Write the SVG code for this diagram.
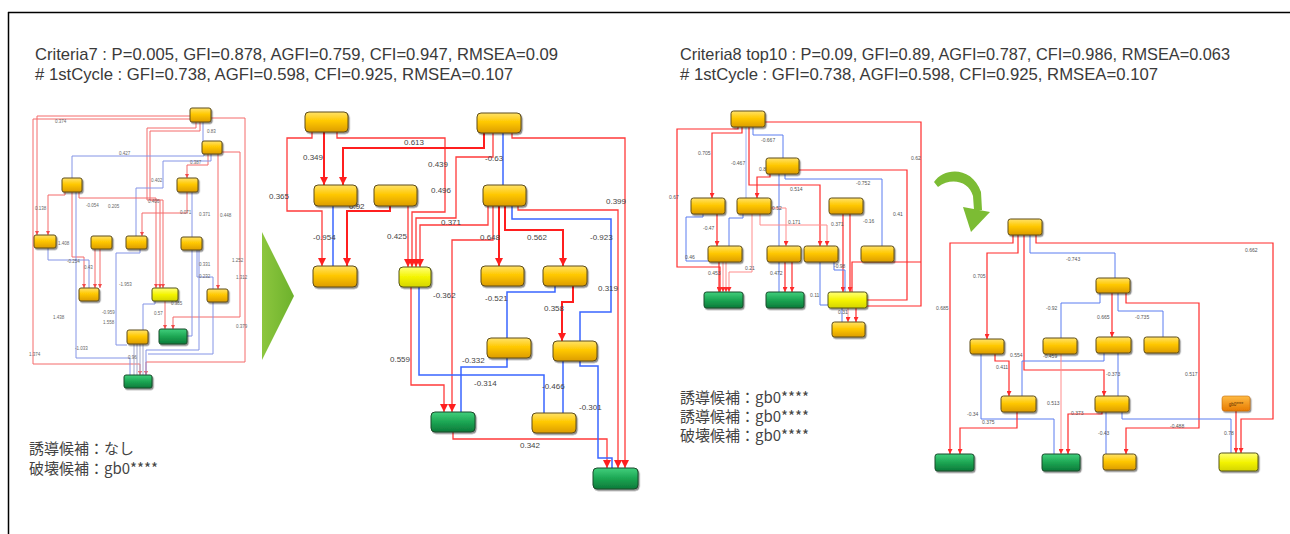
<svg xmlns="http://www.w3.org/2000/svg" width="1290" height="534" viewBox="0 0 1290 534">
<defs>
<linearGradient id="gGold" x1="0" y1="0" x2="0" y2="1"><stop offset="0" stop-color="#ffe26a"/><stop offset="0.45" stop-color="#ffc800"/><stop offset="1" stop-color="#dc9c00"/></linearGradient>
<linearGradient id="gGreen" x1="0" y1="0" x2="0" y2="1"><stop offset="0" stop-color="#40cf7c"/><stop offset="0.5" stop-color="#1ca653"/><stop offset="1" stop-color="#0c7a3a"/></linearGradient>
<linearGradient id="gYel" x1="0" y1="0" x2="0" y2="1"><stop offset="0" stop-color="#ffff7a"/><stop offset="0.5" stop-color="#f4f400"/><stop offset="1" stop-color="#d4d400"/></linearGradient>
<linearGradient id="gOr" x1="0" y1="0" x2="0" y2="1"><stop offset="0" stop-color="#ffbb44"/><stop offset="1" stop-color="#e77a00"/></linearGradient>
<linearGradient id="gTri" x1="0" y1="0" x2="1" y2="0"><stop offset="0" stop-color="#8cc63e"/><stop offset="1" stop-color="#6db22c"/></linearGradient>
<filter id="sh" x="-20%" y="-20%" width="150%" height="160%"><feDropShadow dx="1.2" dy="1.5" stdDeviation="0.7" flood-color="#000" flood-opacity="0.45"/></filter>
<marker id="aL" markerUnits="userSpaceOnUse" markerWidth="8" markerHeight="8" refX="8" refY="4" orient="auto"><path d="M0,0 L8,4 L0,8 z" fill="#ff1f1f"/></marker>
<marker id="aM" markerUnits="userSpaceOnUse" markerWidth="5" markerHeight="5" refX="5" refY="2.5" orient="auto"><path d="M0,0 L5,2.5 L0,5 z" fill="#ff2b2b"/></marker>
<marker id="aS" markerUnits="userSpaceOnUse" markerWidth="4" markerHeight="4" refX="4" refY="2" orient="auto"><path d="M0,0 L4,2 L0,4 z" fill="#f24a4a"/></marker>
</defs>
<style>
.gold{fill:url(#gGold);stroke:#5e4d1c;stroke-width:1;filter:url(#sh)}
.green{fill:url(#gGreen);stroke:#1b4a2b;stroke-width:1;filter:url(#sh)}
.yel{fill:url(#gYel);stroke:#55551a;stroke-width:1;filter:url(#sh)}
.org{fill:url(#gOr);stroke:#c06a10;stroke-width:0.6;filter:url(#sh)}
.rs{stroke:#ff1f1f;stroke-width:2;fill:none}
.rm{stroke:#ff3a3a;stroke-width:1.3;fill:none}
.bs{stroke:#3a66ff;stroke-width:1.5;fill:none}
.r2{stroke:#ff2b2b;stroke-width:1.2;fill:none}
.p2{stroke:#ff8c8c;stroke-width:1;fill:none}
.b2{stroke:#5b7cf0;stroke-width:1;fill:none}
.r1{stroke:#f46a6a;stroke-width:1;fill:none}
.b1{stroke:#8494e6;stroke-width:1;fill:none}
.g1{stroke:#a2a8cc;stroke-width:1;fill:none}
.lab{font-family:"Liberation Sans",Arial,sans-serif;font-size:8px;fill:#444}
.l2{font-family:"Liberation Sans",Arial,sans-serif;font-size:5px;fill:#555}
.l1{font-family:"Liberation Sans",Arial,sans-serif;font-size:4.5px;fill:#666}
.hd{font-family:"Liberation Sans",Arial,sans-serif;font-size:17px;fill:#3a3a3a}
.jp{font-family:"Noto Sans CJK JP","Noto Sans",sans-serif;fill:#444}
</style>
<rect x="0" y="0" width="1290" height="534" fill="#ffffff"/>
<path d="M8,12.5 H1290 M8.5,12 V534" stroke="#000" stroke-width="1.5" fill="none"/>

<g id="headers">
<text class="hd" x="35" y="60" textLength="523" lengthAdjust="spacingAndGlyphs">Criteria7 : P=0.005, GFI=0.878, AGFI=0.759, CFI=0.947, RMSEA=0.09</text>
<text class="hd" x="35" y="80" textLength="478" lengthAdjust="spacingAndGlyphs"># 1stCycle : GFI=0.738, AGFI=0.598, CFI=0.925, RMSEA=0.107</text>
<text class="hd" x="680" y="60" textLength="550" lengthAdjust="spacingAndGlyphs">Criteria8 top10 : P=0.09, GFI=0.89, AGFI=0.787, CFI=0.986, RMSEA=0.063</text>
<text class="hd" x="680" y="80" textLength="478" lengthAdjust="spacingAndGlyphs"># 1stCycle : GFI=0.738, AGFI=0.598, CFI=0.925, RMSEA=0.107</text>
</g>
<g id="notes">
<text class="jp" x="29" y="454" font-size="15">誘導候補：なし</text>
<text class="jp" x="29" y="474" font-size="15">破壊候補：gb0****</text>
<text class="jp" x="680" y="403" font-size="15">誘導候補：gb0****</text>
<text class="jp" x="680" y="422" font-size="15">誘導候補：gb0****</text>
<text class="jp" x="680" y="441" font-size="15">破壊候補：gb0****</text>
</g>
<g id="arrows-deco">
<polygon points="262,232 294,296 262,360" fill="url(#gTri)"/>
<path d="M934,182 C944,167 972,166 981,192 L982,210 L974,210 L973,196 C969,181 951,177 938,187 Z" fill="#7cbc34"/>
<polygon points="963,207 990,212 971,232" fill="#7cbc34"/>
</g>

<!-- ================= LEFT SMALL GRAPH ================= -->
<g id="connectors-left">
<path class="r1" d="M190,116 H37 V235" marker-end="url(#aS)"/>
<path class="r1" d="M211,118 H245 V362 H146 V375" marker-end="url(#aS)"/>
<path class="r1" d="M190,119 H33 V364 H140 V375" marker-end="url(#aS)"/>
<path class="b1" d="M203,122 V142"/>
<path class="r1" d="M196,122 V128 H147 V200 H160 V288" marker-end="url(#aS)"/>
<path class="r1" d="M200,122 V131 H150 V200 H163 V288" marker-end="url(#aS)"/>
<path class="r1" d="M208,154 V165 H187 V178" marker-end="url(#aS)"/>
<path class="r1" d="M218,154 V289" marker-end="url(#aS)"/>
<path class="r1" d="M222,152 H240 V317 H173 V329" marker-end="url(#aS)"/>
<path class="b1" d="M204,154 V156 H72 V178"/>
<path class="b1" d="M211,154 V161 H163 V188 H136 V236"/>
<path class="r1" d="M65,192 V195 H48 V235" marker-end="url(#aS)"/>
<path class="r1" d="M72,192 V257 H84 V288" marker-end="url(#aS)"/>
<path class="r1" d="M79,192 V198 H156 V288" marker-end="url(#aS)"/>
<path class="r1" d="M95,249 V288" marker-end="url(#aS)"/>
<path class="r1" d="M100,249 V288" marker-end="url(#aS)"/>
<path class="r1" d="M187,192 V213 H142 V236" marker-end="url(#aS)"/>
<path class="b1" d="M192,192 V237"/>
<path class="b1" d="M197,250 V277 H213 V289"/>
<path class="b1" d="M48,248 V260 H89 V288"/>
<path class="b1" d="M140,249 V253 H116 V345 H127"/>
<path class="r1" d="M165,301 V329" marker-end="url(#aS)"/>
<path class="b1" d="M155,301 V304 H143 V330"/>
<path class="g1" d="M134,344 V375 M137,344 V375 M140,344 V375 M143,344 V375"/>
<path class="b1" d="M76,192 V358 H130 V375"/>
<path class="b1" d="M192,250 V336 H187"/>
<path class="b1" d="M199,250 V350 H146 V375"/>
<path class="b1" d="M213,302 V354 H148"/>
<text class="l1" x="55" y="123">0.374</text>
<text class="l1" x="29" y="356">1.374</text>
<text class="l1" x="236" y="328">0.379</text>
<text class="l1" x="207" y="133">0.83</text>
<text class="l1" x="190" y="164">0.387</text>
<text class="l1" x="199" y="216">0.371</text>
<text class="l1" x="220" y="217">0.448</text>
<text class="l1" x="232" y="262">1.252</text>
<text class="l1" x="236" y="279">1.312</text>
<text class="l1" x="119" y="155">0.427</text>
<text class="l1" x="151" y="182">0.402</text>
<text class="l1" x="35" y="210">0.138</text>
<text class="l1" x="58" y="245">1.408</text>
<text class="l1" x="86" y="207">-0.054</text>
<text class="l1" x="108" y="208">0.205</text>
<text class="l1" x="148" y="203">0.406</text>
<text class="l1" x="84" y="269">0.43</text>
<text class="l1" x="180" y="214">0.071</text>
<text class="l1" x="199" y="266">0.331</text>
<text class="l1" x="199" y="278">0.232</text>
<text class="l1" x="67" y="263">-0.254</text>
<text class="l1" x="119" y="286">-1.953</text>
<text class="l1" x="102" y="314">-0.959</text>
<text class="l1" x="103" y="324">1.558</text>
<text class="l1" x="154" y="315">0.57</text>
<text class="l1" x="171" y="305">0.385</text>
<text class="l1" x="128" y="359">0.96</text>
<text class="l1" x="53" y="319">1.438</text>
<text class="l1" x="75" y="350">-1.033</text>
</g>
<g id="n-l1"><rect class="gold" x="190" y="108" width="21" height="14" rx="2"/></g>
<g id="n-l2"><rect class="gold" x="202" y="141" width="20" height="13" rx="2"/></g>
<g id="n-l3"><rect class="gold" x="62" y="178" width="20" height="14" rx="2"/></g>
<g id="n-l4"><rect class="gold" x="177" y="178" width="21" height="14" rx="2"/></g>
<g id="n-l5"><rect class="gold" x="34" y="235" width="22" height="13" rx="2"/></g>
<g id="n-l6"><rect class="gold" x="91" y="236" width="21" height="13" rx="2"/></g>
<g id="n-l7"><rect class="gold" x="126" y="236" width="21" height="13" rx="2"/></g>
<g id="n-l8"><rect class="gold" x="181" y="237" width="21" height="13" rx="2"/></g>
<g id="n-l9"><rect class="gold" x="79" y="288" width="20" height="13" rx="2"/></g>
<g id="n-l10"><rect class="yel" x="152" y="288" width="26" height="13" rx="2"/></g>
<g id="n-l11"><rect class="gold" x="207" y="289" width="21" height="13" rx="2"/></g>
<g id="n-l12"><rect class="gold" x="127" y="330" width="21" height="14" rx="2"/></g>
<g id="n-l13"><rect class="green" x="159" y="329" width="28" height="15" rx="2"/></g>
<g id="n-l14"><rect class="green" x="124" y="375" width="28" height="13" rx="2"/></g>

<!-- ================= MIDDLE GRAPH ================= -->
<g id="connectors-mid">
<path class="rm" d="M312,132 V138 H287 V211 H322 V266" marker-end="url(#aL)"/>
<path class="rm" d="M337,132 V138 H445 V212 H412 V267" marker-end="url(#aL)"/>
<path class="rm" d="M493,133 V157 H456 V218 H416 V267" marker-end="url(#aL)"/>
<path class="rm" d="M488,206 V225 H420 V267" marker-end="url(#aL)"/>
<path class="rm" d="M408,206 V267" marker-end="url(#aL)"/>
<path class="rm" d="M512,133 V138 H625 V468" marker-end="url(#aL)"/>
<path class="rm" d="M518,206 V210 H618 V468" marker-end="url(#aL)"/>
<path class="rm" d="M411,287 V385 H444 V412" marker-end="url(#aL)"/>
<path class="rm" d="M493,206 V240 H452 V412" marker-end="url(#aL)"/>
<path class="rs" d="M324,132 V185" marker-end="url(#aL)"/>
<path class="rs" d="M484,133 V148 H343 V185" marker-end="url(#aL)"/>
<path class="rs" d="M390,206 V211 H347 V266" marker-end="url(#aL)"/>
<path class="rs" d="M499,206 V266" marker-end="url(#aL)"/>
<path class="rs" d="M505,206 V230 H563 V266" marker-end="url(#aL)"/>
<path class="rs" d="M573,286 V302 H562 V341" marker-end="url(#aL)"/>
<path class="rm" d="M453,432 V439 H607 V468" marker-end="url(#aL)"/>
<path class="bs" d="M333,206 V266"/>
<path class="bs" d="M503,133 V185"/>
<path class="bs" d="M419,287 V375 H544 V413"/>
<path class="bs" d="M512,206 V219 H611 V312 H580 V341"/>
<path class="bs" d="M555,286 V292 H507 V338"/>
<path class="bs" d="M507,358 V367 H461 V412"/>
<path class="bs" d="M563,361 V413"/>
<path class="bs" d="M580,361 V366 H598 V458 H612 V468"/>
<text class="lab" x="303" y="160">0.349</text>
<text class="lab" x="269" y="199">0.365</text>
<text class="lab" x="404" y="145">0.613</text>
<text class="lab" x="428" y="167">0.439</text>
<text class="lab" x="431" y="193">0.496</text>
<text class="lab" x="349" y="209">0.92</text>
<text class="lab" x="313" y="240">-0.954</text>
<text class="lab" x="387" y="239">0.425</text>
<text class="lab" x="441" y="225">0.371</text>
<text class="lab" x="480" y="240">0.648</text>
<text class="lab" x="527" y="240">0.562</text>
<text class="lab" x="485" y="161">-0.63</text>
<text class="lab" x="590" y="240">-0.923</text>
<text class="lab" x="606" y="204">0.399</text>
<text class="lab" x="433" y="298">-0.362</text>
<text class="lab" x="485" y="301">-0.521</text>
<text class="lab" x="544" y="311">0.358</text>
<text class="lab" x="598" y="291">0.319</text>
<text class="lab" x="390" y="362">0.559</text>
<text class="lab" x="462" y="363">-0.332</text>
<text class="lab" x="474" y="386">-0.314</text>
<text class="lab" x="542" y="389">-0.466</text>
<text class="lab" x="579" y="410">-0.301</text>
<text class="lab" x="520" y="448">0.342</text>
</g>
<g id="n-A"><rect class="gold" x="305" y="112" width="43" height="20" rx="4"/></g>
<g id="n-B"><rect class="gold" x="314" y="185" width="43" height="21" rx="4"/></g>
<g id="n-C"><rect class="gold" x="374" y="185" width="43" height="21" rx="4"/></g>
<g id="n-D"><rect class="gold" x="313" y="266" width="44" height="21" rx="4"/></g>
<g id="n-E"><rect class="yel" x="399" y="267" width="32" height="20" rx="4"/></g>
<g id="n-F"><rect class="gold" x="477" y="113" width="44" height="20" rx="4"/></g>
<g id="n-G"><rect class="gold" x="483" y="185" width="43" height="21" rx="4"/></g>
<g id="n-H"><rect class="gold" x="481" y="266" width="43" height="20" rx="4"/></g>
<g id="n-I"><rect class="gold" x="543" y="266" width="44" height="20" rx="4"/></g>
<g id="n-J"><rect class="gold" x="487" y="338" width="44" height="20" rx="4"/></g>
<g id="n-K"><rect class="gold" x="553" y="341" width="44" height="20" rx="4"/></g>
<g id="n-L"><rect class="green" x="431" y="412" width="44" height="20" rx="4"/></g>
<g id="n-M"><rect class="gold" x="532" y="413" width="44" height="20" rx="4"/></g>
<g id="n-N"><rect class="green" x="593" y="468" width="45" height="21" rx="4"/></g>

<!-- ================= RIGHT TOP GRAPH ================= -->
<g id="connectors-rt">
<path class="r2" d="M738,127 V129 H677 V267 H720 V292" marker-end="url(#aM)"/>
<path class="r2" d="M765,122 H921 V306 H867"/>
<path class="r2" d="M742,127 V133 H712 V198" marker-end="url(#aM)"/>
<path class="r2" d="M749,127 V185 H820 V246" marker-end="url(#aM)"/>
<path class="b2" d="M753,127 V135 H783 V158"/>
<path class="b2" d="M746,127 V198" stroke-opacity="0.6"/>
<path class="r2" d="M770,174 V177 H757 V198" marker-end="url(#aM)"/>
<path class="b2" d="M779,174 V292"/>
<path class="b2" d="M785,174 V179 H882 V246"/>
<path class="r2" d="M799,170 H907 V300 H867"/>
<path class="r2" d="M717,214 V246" marker-end="url(#aM)"/>
<path class="b2" d="M703,214 V217 H686 V261 H708"/>
<path class="b2" d="M743,214 V218 H729 V246"/>
<path class="p2" d="M752,214 V272 H729 V292" marker-end="url(#aM)"/>
<path class="p2" d="M760,214 V225 H827 V246" marker-end="url(#aM)"/>
<path class="p2" d="M771,208 H786 V246" marker-end="url(#aM)"/>
<path class="r2" d="M843,214 V292" marker-end="url(#aM)"/>
<path class="r2" d="M850,214 V292" marker-end="url(#aM)"/>
<path class="r2" d="M719,262 V292" marker-end="url(#aM)"/>
<path class="p2" d="M723,262 V292" marker-end="url(#aM)"/>
<path class="p2" d="M726,262 V292" marker-end="url(#aM)"/>
<path class="r2" d="M785,262 V292" marker-end="url(#aM)"/>
<path class="r2" d="M792,262 V292" marker-end="url(#aM)"/>
<path class="b2" d="M820,262 V305 H828"/>
<path class="b2" d="M834,262 V270 H845 V292"/>
<path class="r2" d="M856,308 V322" marker-end="url(#aM)"/>
<path class="p2" d="M848,308 V322" marker-end="url(#aM)"/>
<path class="b2" d="M842,308 V322"/>
<path class="r2" d="M852,292 V262 H921"/>
<text class="l2" x="669" y="199">0.67</text>
<text class="l2" x="911" y="160">0.62</text>
<text class="l2" x="698" y="155">0.705</text>
<text class="l2" x="790" y="191">0.514</text>
<text class="l2" x="761" y="142">-0.667</text>
<text class="l2" x="731" y="165">-0.467</text>
<text class="l2" x="759" y="171">0.84</text>
<text class="l2" x="772" y="210">0.52</text>
<text class="l2" x="856" y="185">-0.752</text>
<text class="l2" x="893" y="216">0.41</text>
<text class="l2" x="703" y="230">-0.47</text>
<text class="l2" x="685" y="259">0.46</text>
<text class="l2" x="745" y="270">0.21</text>
<text class="l2" x="788" y="224">0.171</text>
<text class="l2" x="831" y="226">0.371</text>
<text class="l2" x="863" y="223">-0.16</text>
<text class="l2" x="708" y="275">0.453</text>
<text class="l2" x="770" y="275">0.472</text>
<text class="l2" x="810" y="297">0.11</text>
<text class="l2" x="834" y="268">-0.98</text>
<text class="l2" x="838" y="314">0.31</text>
</g>
<g id="n-p1"><rect class="gold" x="731" y="111" width="34" height="16" rx="2.5"/></g>
<g id="n-p2"><rect class="gold" x="766" y="158" width="33" height="16" rx="2.5"/></g>
<g id="n-p3"><rect class="gold" x="691" y="198" width="34" height="16" rx="2.5"/></g>
<g id="n-p4"><rect class="gold" x="737" y="198" width="34" height="16" rx="2.5"/></g>
<g id="n-p5"><rect class="gold" x="829" y="198" width="34" height="16" rx="2.5"/></g>
<g id="n-p6"><rect class="gold" x="708" y="246" width="34" height="16" rx="2.5"/></g>
<g id="n-p7"><rect class="gold" x="767" y="246" width="34" height="16" rx="2.5"/></g>
<g id="n-p8"><rect class="gold" x="804" y="246" width="34" height="16" rx="2.5"/></g>
<g id="n-p9"><rect class="gold" x="861" y="246" width="33" height="16" rx="2.5"/></g>
<g id="n-p10"><rect class="green" x="704" y="292" width="39" height="16" rx="2.5"/></g>
<g id="n-p11"><rect class="green" x="766" y="292" width="38" height="16" rx="2.5"/></g>
<g id="n-p12"><rect class="yel" x="828" y="292" width="39" height="16" rx="2.5"/></g>
<g id="n-p13"><rect class="gold" x="832" y="322" width="33" height="15" rx="2.5"/></g>

<!-- ================= RIGHT BOTTOM GRAPH ================= -->
<g id="connectors-rb">
<path class="r2" d="M1013,235 V243 H950 V454" marker-end="url(#aM)"/>
<path class="r2" d="M1018,235 V253 H987 V339" marker-end="url(#aM)"/>
<path class="r2" d="M1024,235 V370 H1104 V396" marker-end="url(#aM)"/>
<path class="r2" d="M1036,235 V243 H1273 V419 H1241 V453" marker-end="url(#aM)"/>
<path class="b2" d="M1030,235 V253 H1115 V278"/>
<path class="b2" d="M1100,293 V303 H1061 V338"/>
<path class="r2" d="M1112,293 V337" marker-end="url(#aM)"/>
<path class="b2" d="M1118,293 V311 H1163 V337"/>
<path class="r2" d="M1126,293 V303 H1199 V428 H1126 V454" marker-end="url(#aM)"/>
<path class="b2" d="M1104,353 V361 H1022 V396"/>
<path class="r2" d="M995,354 V361 H1009 V396" marker-end="url(#aM)"/>
<path class="b2" d="M981,354 V419 H1054 V454"/>
<path class="r2" d="M1017,412 V428 H960 V454" marker-end="url(#aM)"/>
<path class="p2" d="M1061,354 V454" marker-end="url(#aM)"/>
<path class="r2" d="M1102,412 V414 H1068 V454" marker-end="url(#aM)"/>
<path class="b2" d="M1118,353 V396"/>
<path class="b2" d="M1106,412 V454"/>
<path class="b2" d="M1122,412 V419 H1231 V453"/>
<path class="r2" d="M1236,411 V453" marker-end="url(#aM)"/>
<text class="l2" x="936" y="310">0.685</text>
<text class="l2" x="973" y="278">0.705</text>
<text class="l2" x="1010" y="357">0.554</text>
<text class="l2" x="1245" y="252">0.662</text>
<text class="l2" x="1066" y="261">-0.743</text>
<text class="l2" x="1046" y="310">-0.92</text>
<text class="l2" x="1097" y="319">0.665</text>
<text class="l2" x="1135" y="319">-0.735</text>
<text class="l2" x="1185" y="376">0.517</text>
<text class="l2" x="1043" y="358">-0.459</text>
<text class="l2" x="996" y="369">0.411</text>
<text class="l2" x="967" y="416">-0.34</text>
<text class="l2" x="982" y="424">0.375</text>
<text class="l2" x="1047" y="405">0.513</text>
<text class="l2" x="1071" y="415">0.373</text>
<text class="l2" x="1106" y="376">-0.373</text>
<text class="l2" x="1098" y="435">-0.43</text>
<text class="l2" x="1170" y="428">-0.488</text>
<text class="l2" x="1224" y="435">0.78</text>
</g>
<g id="n-q1"><rect class="gold" x="1008" y="219" width="34" height="16" rx="2.5"/></g>
<g id="n-q2"><rect class="gold" x="1096" y="278" width="34" height="15" rx="2.5"/></g>
<g id="n-q3"><rect class="gold" x="970" y="339" width="34" height="15" rx="2.5"/></g>
<g id="n-q4"><rect class="gold" x="1043" y="338" width="34" height="16" rx="2.5"/></g>
<g id="n-q5"><rect class="gold" x="1096" y="337" width="35" height="16" rx="2.5"/></g>
<g id="n-q6"><rect class="gold" x="1144" y="337" width="35" height="16" rx="2.5"/></g>
<g id="n-q7"><rect class="gold" x="1001" y="396" width="35" height="16" rx="2.5"/></g>
<g id="n-q8"><rect class="gold" x="1095" y="396" width="34" height="16" rx="2.5"/></g>
<g id="n-q9"><rect class="org" x="1222" y="396" width="28" height="15" rx="2.5"/><text x="1236" y="405.5" text-anchor="middle" font-family="Liberation Sans, Arial, sans-serif" font-size="4.5" fill="#5a3000">gb0****</text></g>
<g id="n-q10"><rect class="green" x="935" y="454" width="39" height="17" rx="2.5"/></g>
<g id="n-q11"><rect class="green" x="1042" y="454" width="38" height="17" rx="2.5"/></g>
<g id="n-q12"><rect class="gold" x="1103" y="454" width="33" height="16" rx="2.5"/></g>
<g id="n-q13"><rect class="yel" x="1219" y="453" width="39" height="18" rx="2.5"/></g>
</svg>
